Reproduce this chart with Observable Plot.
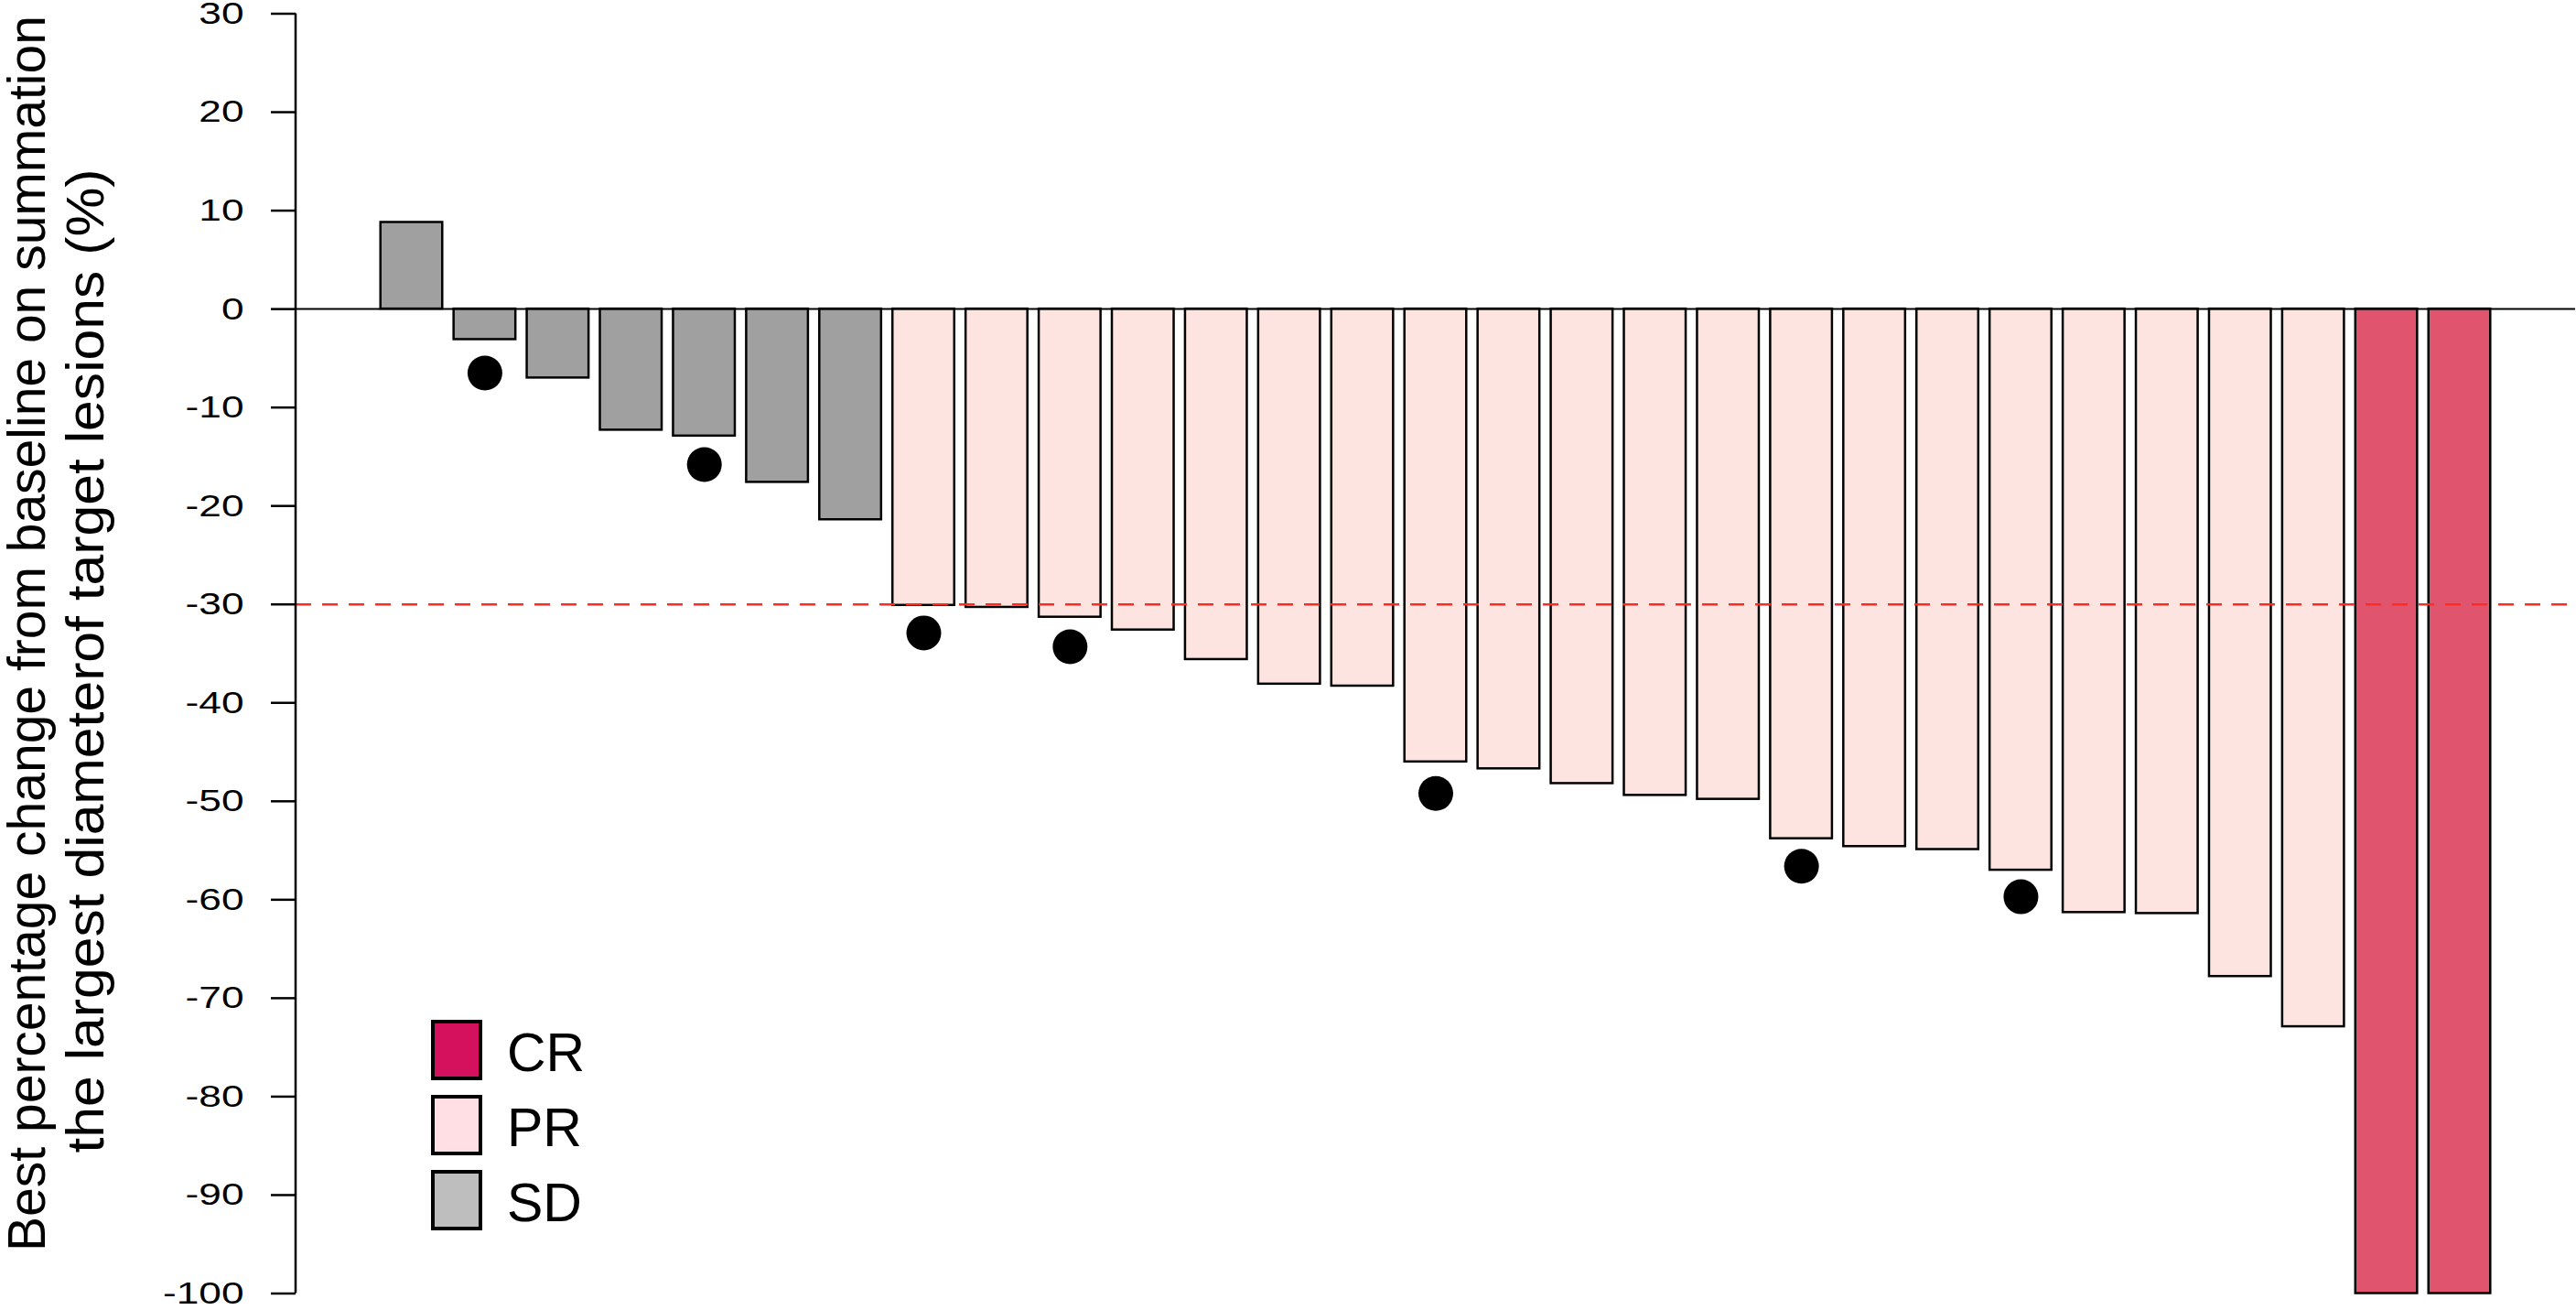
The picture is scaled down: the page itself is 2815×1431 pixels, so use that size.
<!DOCTYPE html>
<html><head><meta charset="utf-8">
<script src="https://cdn.jsdelivr.net/npm/d3@7"></script>
<script src="https://cdn.jsdelivr.net/npm/@observablehq/plot@0.6"></script>
<style>
html,body{margin:0;padding:0;background:#fff;overflow:hidden}
#wrap{position:relative;width:2815px;height:1431px}
#wrap svg{display:block}
#legend{position:absolute;left:471px;top:1114px;font-family:"Liberation Sans",Arial,sans-serif;color:#000}
.item{display:flex;align-items:center;height:66px;margin-bottom:16px}
.sw{width:56px;height:66px;box-sizing:border-box;border:4px solid #000}
.lab{margin-left:27px;font-size:59px;line-height:66px;padding-top:6px}
</style></head><body><div id="wrap"></div>
<script>
// ---- data ----
const patientIds = [1,2,3,4,5,6,7,8,9,10,11,12,13,14,15,16,17,18,19,20,21,22,23,24,25,26,27,28,29];
const bestChange = [8.8,-3.1,-7.0,-12.3,-12.9,-17.6,-21.4,-30.1,-30.3,-31.3,-32.6,-35.6,-38.1,-38.3,-46.0,-46.7,-48.2,-49.4,-49.8,-53.8,-54.6,-54.9,-57.0,-61.3,-61.4,-67.8,-72.9,-100,-100];
const response = ["SD","SD","SD","SD","SD","SD","SD","PR","PR","PR","PR","PR","PR","PR","PR","PR","PR","PR","PR","PR","PR","PR","PR","PR","PR","PR","PR","CR","CR"];
const markedPatients = [2,5,8,10,15,20,23];
const markerValues = [-6.5,-15.8,-32.9,-34.3,-49.2,-56.6,-59.7];
const responseLevels = ["CR","PR","SD"];
const barColors = ["#e0546e","#fde4e1","#a0a0a0"];
const legendColors = ["#d5115d","#ffdfe3","#bebebe"];
const yTicks = [30,20,10,0,-10,-20,-30,-40,-50,-60,-70,-80,-90,-100];
const threshold = [-30];
const titleLines = ["Best percentage change from baseline on summation","the largest diameterof target lesions (%)"];

const bars = patientIds.map((id, i) => ({id, value: bestChange[i], resp: response[i]}));
const markers = markedPatients.map((id, i) => ({id, value: markerValues[i]}));

const font = "'Liberation Sans', Arial, sans-serif";

const axisLine = (index, scales, values, dims) => {
  const [y0, y1] = d3.extent(yTicks);
  const line = d3.create("svg:line")
    .attr("x1", dims.marginLeft).attr("x2", dims.marginLeft)
    .attr("y1", scales.y(y0)).attr("y2", scales.y(y1))
    .attr("stroke", "#000").attr("stroke-width", 2.5);
  return line.node();
};

const chart = Plot.plot({
  width: 2815,
  height: 1431,
  marginLeft: 323,
  marginRight: 1,
  marginTop: 14.5,
  marginBottom: 18.5,
  style: {fontFamily: font, background: "#fff", color: "#000"},
  x: {domain: patientIds, paddingInner: 0.155, paddingOuter: 1.16, round: false, axis: null},
  y: {domain: [-100, 30], axis: null},
  color: {domain: responseLevels, range: barColors},
  marks: [
    Plot.barY(bars, {x: "id", y: "value", fill: "resp", stroke: "#000", strokeWidth: 2.5}),
    Plot.ruleY([0], {stroke: "#000", strokeWidth: 2}),
    Plot.ruleY(threshold, {stroke: "#ff2a20", strokeWidth: 2.5, strokeDasharray: "17,12"}),
    Plot.dot(markers, {x: "id", y: "value", r: 19, fill: "#000", stroke: null}),
    axisLine,
    Plot.axisY({ticks: yTicks, label: null, tickSize: 27, tickPadding: 30, fontSize: 34, strokeWidth: 2.5, tickFormat: d => String(d)}),
    Plot.text([titleLines[0]], {text: d => d, frameAnchor: "left", textAnchor: "middle", rotate: -90, dx: -293, dy: -22, fontSize: 57, fill: "#000"}),
    Plot.text([titleLines[1]], {text: d => d, frameAnchor: "left", textAnchor: "middle", rotate: -90, dx: -229, dy: 8, fontSize: 57, fill: "#000"})
  ]
});

document.getElementById("wrap").appendChild(chart);

// tick labels in the reference are horizontally stretched
d3.select(chart).selectAll("g[aria-label='y-axis tick label'] text").each(function() {
  const t = this.getAttribute("transform");
  if (t) this.setAttribute("transform", t + " scale(1.3,1)");
  else {
    const x = +this.getAttribute("x") || 0, y = +this.getAttribute("y") || 0;
    this.removeAttribute("x"); this.removeAttribute("y");
    this.setAttribute("transform", `translate(${x},${y}) scale(1.3,1)`);
  }
});

// second title line is set slightly wider in the reference
d3.select(chart).selectAll("text").filter(function() { return this.textContent === titleLines[1]; })
  .attr("textLength", 1075).attr("lengthAdjust", "spacingAndGlyphs");

// legend
const legend = d3.select("#wrap").append("div").attr("id", "legend");
responseLevels.forEach((r, i) => {
  const item = legend.append("div").attr("class", "item");
  item.append("div").attr("class", "sw").style("background", legendColors[i]);
  item.append("div").attr("class", "lab").text(r);
});
</script></body></html>
